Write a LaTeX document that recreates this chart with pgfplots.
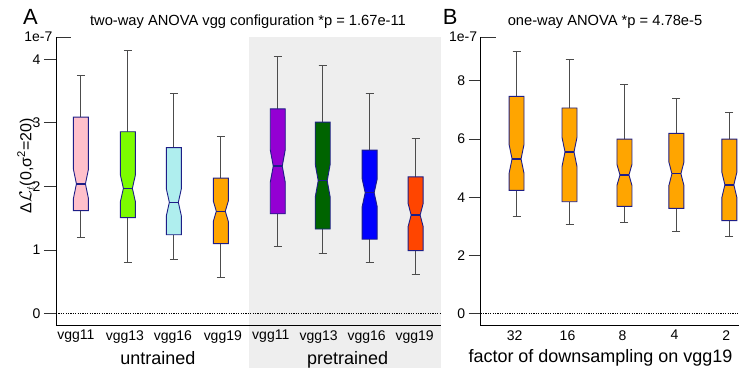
\documentclass[border=0pt]{standalone}
\usepackage{pgfplots}
\pgfplotsset{compat=1.18}
\usepgfplotslibrary{statistics}
\usepackage{fontspec}
\setmainfont{Liberation Sans}

\definecolor{cpink}{RGB}{255,192,203}
\definecolor{clawn}{RGB}{124,252,0}
\definecolor{cturq}{RGB}{175,238,238}
\definecolor{corange}{RGB}{255,165,0}
\definecolor{cviolet}{RGB}{148,0,211}
\definecolor{cdkgreen}{RGB}{0,100,0}
\definecolor{cblue}{RGB}{0,0,255}
\definecolor{cred}{RGB}{255,69,0}
\definecolor{boxnavy}{RGB}{30,30,135}
\definecolor{cshade}{RGB}{238,238,238}

\pgfplotsset{
  notched/.style={
    boxplot/draw direction=y,
    boxplot/draw/box/.code={%
      \begingroup
      \pgfkeys{/pgf/fpu=true,/pgf/fpu/output format=fixed}%
      \pgfmathsetmacro\bxLQ{\pgfplotsboxplotvalue{lower quartile}}%
      \pgfmathsetmacro\bxUQ{\pgfplotsboxplotvalue{upper quartile}}%
      \pgfmathsetmacro\bxMD{\pgfplotsboxplotvalue{median}}%
      \pgfmathsetmacro\bxNL{\bxMD-0.155*(\bxUQ-\bxLQ)}%
      \pgfmathsetmacro\bxNU{\bxMD+0.155*(\bxUQ-\bxLQ)}%
      \pgfkeys{/pgf/fpu=false}%
      \draw[/pgfplots/boxplot/every box/.try]
        (boxplot box cs:\bxLQ,0) -- (boxplot box cs:\bxNL,0) -- (boxplot box cs:\bxMD,0.2)
        -- (boxplot box cs:\bxNU,0) -- (boxplot box cs:\bxUQ,0) -- (boxplot box cs:\bxUQ,1)
        -- (boxplot box cs:\bxNU,1) -- (boxplot box cs:\bxMD,0.8) -- (boxplot box cs:\bxNL,1)
        -- (boxplot box cs:\bxLQ,1) -- cycle;
      \endgroup
    },
    boxplot/draw/median/.code={%
      \draw[/pgfplots/boxplot/every median/.try]
        (boxplot box cs:\pgfplotsboxplotvalue{median},0.2) --
        (boxplot box cs:\pgfplotsboxplotvalue{median},0.8);
    },
    boxplot/every box/.style={draw=boxnavy, line width=0.9pt},
    boxplot/every median/.style={draw=boxnavy, line width=1.4pt},
    boxplot/every whisker/.style={draw=black!70, line width=1pt},
    boxplot/box extend=1.5,
    boxplot/whisker extend=0.8,
  },
  panel/.style={
    anchor=south west, scale only axis, height=289pt,
    axis x line*=bottom, axis y line*=left,
    axis line style={black, line width=0.9pt},
    clip=false,
    tick align=outside, major tick length=12pt,
    y tick style={black!80, line width=0.9pt},
    x tick style={draw=none},
    xticklabel style={yshift=11pt},
    extra y tick style={tick align=inside, major tick length=15pt},
    tick label style={font=\fontsize{14}{16}\selectfont},
    /pgf/number format/assume math mode=true,
    set layers, notched,
  },
  zeroline/.style={black, line width=1.3pt, dash pattern=on 1.2pt off 1.2pt},
}

\begin{document}
\begin{tikzpicture}
\path (0,0) rectangle (740pt,369pt);

% ---------------- Panel A ----------------
\begin{axis}[panel,
  at={(56pt,43pt)}, width=385pt,
  xmin=0, xmax=38.5, ymin=-0.19, ymax=4.35,
  ytick={0,1,2,3,4},
  extra y ticks={4.35}, extra y tick labels={1e-7},
  xtick={2.0,6.9,11.7,16.7,21.5,26.3,31.1,35.9},
  xticklabels={vgg11,vgg13,vgg16,vgg19,vgg11,vgg13,vgg16,vgg19},
]
\pgfonlayer{axis background}
\fill[cshade] (axis cs:19.3,4.35) rectangle (axis cs:38.5,-0.86);
\endpgfonlayer
\addplot[zeroline] coordinates {(0,0) (38.5,0)};
\addplot[fill=cpink, boxplot prepared={draw position=2.5, lower whisker=1.19, lower quartile=1.62, median=2.04, upper quartile=3.09, upper whisker=3.75}] coordinates {};
\addplot[fill=clawn, boxplot prepared={draw position=7.2, lower whisker=0.81, lower quartile=1.51, median=1.97, upper quartile=2.86, upper whisker=4.13}] coordinates {};
\addplot[fill=cturq, boxplot prepared={draw position=11.8, lower whisker=0.85, lower quartile=1.24, median=1.75, upper quartile=2.61, upper whisker=3.46}] coordinates {};
\addplot[fill=corange, boxplot prepared={draw position=16.5, lower whisker=0.57, lower quartile=1.10, median=1.61, upper quartile=2.13, upper whisker=2.79}] coordinates {};
\addplot[fill=cviolet, boxplot prepared={draw position=22.2, lower whisker=1.05, lower quartile=1.57, median=2.32, upper quartile=3.22, upper whisker=4.04}] coordinates {};
\addplot[fill=cdkgreen, boxplot prepared={draw position=26.7, lower whisker=0.95, lower quartile=1.33, median=2.09, upper quartile=3.01, upper whisker=3.90}] coordinates {};
\addplot[fill=cblue, boxplot prepared={draw position=31.4, lower whisker=0.81, lower quartile=1.17, median=1.90, upper quartile=2.57, upper whisker=3.46}] coordinates {};
\addplot[fill=cred, boxplot prepared={draw position=36.0, lower whisker=0.62, lower quartile=0.99, median=1.55, upper quartile=2.15, upper whisker=2.75}] coordinates {};
\end{axis}

% ---------------- Panel B ----------------
\begin{axis}[panel,
  at={(481pt,43pt)}, width=259pt,
  xmin=0, xmax=25.9, ymin=-0.41, ymax=9.51,
  ytick={0,2,4,6,8},
  extra y ticks={9.51}, extra y tick labels={1e-7},
  xtick={3.4,8.7,14.2,19.4,24.6},
  xticklabels={32,16,8,4,2},
]
\addplot[zeroline] coordinates {(0,0) (25.9,0)};
\addplot[fill=corange, boxplot prepared={draw position=3.6, lower whisker=3.34, lower quartile=4.24, median=5.32, upper quartile=7.47, upper whisker=9.01}] coordinates {};
\addplot[fill=corange, boxplot prepared={draw position=8.9, lower whisker=3.06, lower quartile=3.85, median=5.56, upper quartile=7.07, upper whisker=8.73}] coordinates {};
\addplot[fill=corange, boxplot prepared={draw position=14.4, lower whisker=3.12, lower quartile=3.69, median=4.77, upper quartile=6.00, upper whisker=7.87}] coordinates {};
\addplot[fill=corange, boxplot prepared={draw position=19.6, lower whisker=2.83, lower quartile=3.62, median=4.81, upper quartile=6.20, upper whisker=7.39}] coordinates {};
\addplot[fill=corange, boxplot prepared={draw position=24.9, lower whisker=2.64, lower quartile=3.20, median=4.43, upper quartile=6.00, upper whisker=6.92}] coordinates {};
\end{axis}

% ---------------- Texts ----------------
\node[anchor=base west, inner sep=0pt, font=\fontsize{22}{24}\selectfont] at (23pt,344pt) {A};
\node[anchor=base west, inner sep=0pt, font=\fontsize{14.7}{16}\selectfont] at (90pt,343pt) {two-way ANOVA vgg configuration *p = 1.67e-11};
\node[anchor=base west, inner sep=0pt, font=\fontsize{22}{24}\selectfont] at (443pt,344pt) {B};
\node[anchor=base west, inner sep=0pt, font=\fontsize{14.7}{16}\selectfont] at (508pt,343pt) {one-way ANOVA *p = 4.78e-5};
\node[rotate=90, inner sep=0pt, font=\fontsize{16}{18}\selectfont] at (26pt,203pt) {Δ$\mathcal{L}_t$(0,σ\textsuperscript{2}=20)};
\node[anchor=base, inner sep=0pt, font=\fontsize{18}{20}\selectfont] at (158pt,4pt) {untrained};
\node[anchor=base, inner sep=0pt, font=\fontsize{18}{20}\selectfont] at (348pt,4pt) {pretrained};
\node[anchor=base, inner sep=0pt, font=\fontsize{18}{20}\selectfont] at (601pt,6pt) {factor of downsampling on vgg19};
\end{tikzpicture}
\end{document}
